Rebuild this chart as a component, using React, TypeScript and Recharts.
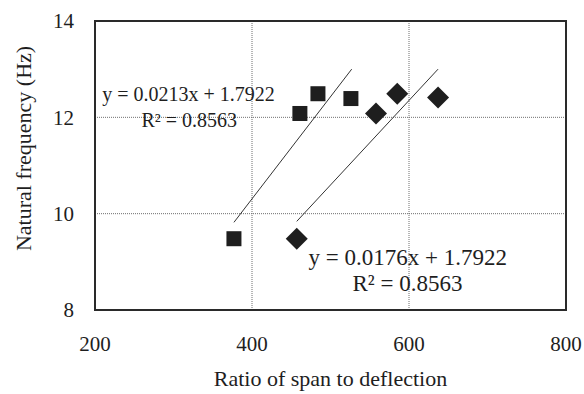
import {
  CartesianGrid,
  ReferenceArea,
  ReferenceDot,
  Scatter,
  ScatterChart,
  XAxis,
  YAxis,
} from "recharts";

const xTicks = [200, 400, 600, 800];
const yTicks = [8, 10, 12, 14];

const squareX = [377, 461, 484, 526];
const squareY = [9.48, 12.08, 12.49, 12.39];
const diamondX = [457, 558, 585, 637];
const diamondY = [9.48, 12.08, 12.49, 12.41];

const squareTrendX = [377, 527];
const squareTrendY = [9.82, 13.0];
const diamondTrendX = [457, 637];
const diamondTrendY = [9.84, 13.0];

const FONT = "'Liberation Serif', 'Times New Roman', serif";
const INK = "#1e1e1e";

const toPoints = (xs: number[], ys: number[]) => xs.map((x, i) => ({ x, y: ys[i] }));

const squares = toPoints(squareX, squareY);
const diamonds = toPoints(diamondX, diamondY);
const squareTrend = toPoints(squareTrendX, squareTrendY);
const diamondTrend = toPoints(diamondTrendX, diamondTrendY);

function SquareMark({ cx, cy }: { cx?: number; cy?: number }) {
  if (cx == null || cy == null) return null;
  return <rect x={cx - 7.5} y={cy - 7.5} width={15} height={15} fill={INK} />;
}

function DiamondMark({ cx, cy }: { cx?: number; cy?: number }) {
  if (cx == null || cy == null) return null;
  const r = 11;
  return (
    <polygon
      points={`${cx},${cy - r} ${cx + r},${cy} ${cx},${cy + r} ${cx - r},${cy}`}
      fill={INK}
    />
  );
}

const noMark = () => null;

const tickStyle = { fontFamily: FONT, fontSize: 21, fill: INK };

function note(value: string, size: number) {
  return {
    value,
    position: "center" as const,
    style: { fontFamily: FONT, fontSize: size, fill: INK },
  };
}

export default function App() {
  return (
    <div style={{ position: "absolute", left: 0, top: 0, background: "#fff" }}>
      <ScatterChart
        width={584}
        height={394}
        margin={{ top: 21, right: 18, bottom: 24, left: 0 }}
      >
        <CartesianGrid stroke="#6f6f6f" strokeDasharray="1 1" />
        <XAxis
          type="number"
          dataKey="x"
          domain={[200, 800]}
          ticks={xTicks}
          axisLine={false}
          tickLine={false}
          tickMargin={20}
          height={60}
          tick={tickStyle}
          label={{
            value: "Ratio of span to deflection",
            position: "bottom",
            offset: 0,
            style: { fontFamily: FONT, fontSize: 22, fill: INK },
          }}
        />
        <YAxis
          type="number"
          dataKey="y"
          domain={[8, 14]}
          ticks={yTicks}
          axisLine={false}
          tickLine={false}
          tickMargin={15}
          width={95}
          tick={tickStyle}
          label={{
            value: "Natural frequency (Hz)",
            angle: -90,
            position: "insideLeft",
            offset: 23,
            dy: -17,
            style: { fontFamily: FONT, fontSize: 22, fill: INK, textAnchor: "middle" },
          }}
        />
        <ReferenceArea
          x1={200}
          x2={800}
          y1={8}
          y2={14}
          fill="none"
          stroke="#2a2a2a"
          strokeWidth={2}
          ifOverflow="visible"
        />
        <Scatter
          data={squareTrend}
          line={{ stroke: "#333", strokeWidth: 1 }}
          shape={noMark}
          isAnimationActive={false}
        />
        <Scatter
          data={diamondTrend}
          line={{ stroke: "#333", strokeWidth: 1 }}
          shape={noMark}
          isAnimationActive={false}
        />
        <Scatter data={squares} shape={SquareMark} isAnimationActive={false} />
        <Scatter data={diamonds} shape={DiamondMark} isAnimationActive={false} />
        <ReferenceDot x={319} y={12.48} r={0} fill="none" stroke="none" label={note("y = 0.0213x + 1.7922", 20)} />
        <ReferenceDot x={320} y={11.94} r={0} fill="none" stroke="none" label={note("R² = 0.8563", 20)} />
        <ReferenceDot x={598.5} y={9.1} r={0} fill="none" stroke="none" label={note("y = 0.0176x + 1.7922", 23)} />
        <ReferenceDot x={598} y={8.56} r={0} fill="none" stroke="none" label={note("R² = 0.8563", 23)} />
      </ScatterChart>
    </div>
  );
}
